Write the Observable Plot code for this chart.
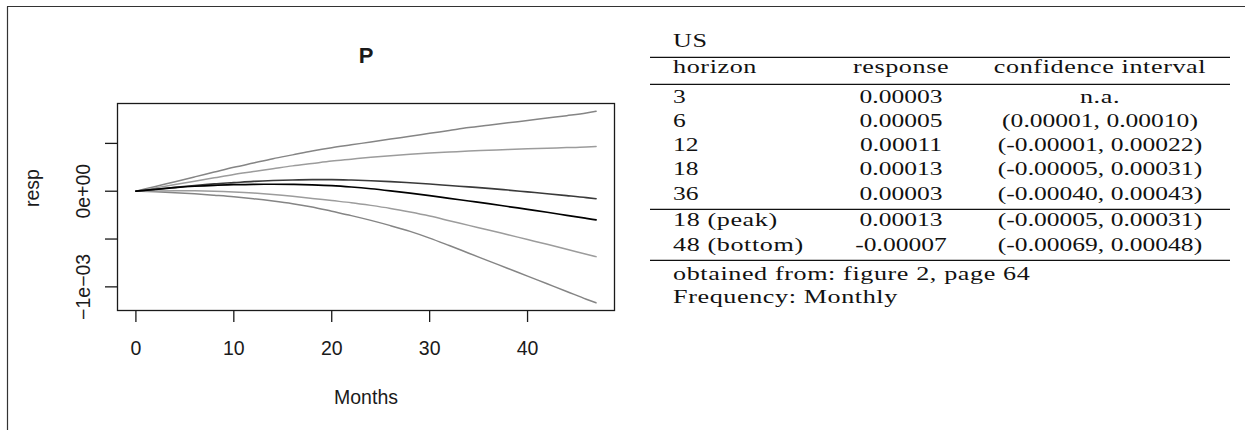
<!DOCTYPE html>
<html><head><meta charset="utf-8">
<script src="https://cdn.jsdelivr.net/npm/d3@7"></script>
<script src="https://cdn.jsdelivr.net/npm/@observablehq/plot@0.6"></script>
<style>
html,body{margin:0;padding:0;background:#fff;}
#wrap{position:relative;width:1245px;height:430px;overflow:hidden;background:#fff;}
#chart{position:absolute;left:0;top:0;}
#overlay{position:absolute;left:0;top:0;pointer-events:none;}
</style></head><body>
<div id="wrap"><div id="chart"></div><svg id="overlay" width="1245" height="430"></svg></div>
<script>
// ---------- chart data (response values in units of 1e-3) ----------
const months = [0,2,4,6,8,10,12,14,16,18,20,22,24,26,28,30,32,34,36,38,40,42,44,46,47];
const upperOuter = [0,0.05,0.10,0.15,0.20,0.25,0.295,0.34,0.38,0.42,0.455,0.485,0.515,0.545,0.575,0.605,0.635,0.665,0.69,0.715,0.74,0.765,0.79,0.818,0.837];
const upperInner = [0,0.035,0.07,0.105,0.14,0.175,0.205,0.235,0.265,0.29,0.315,0.335,0.355,0.372,0.387,0.40,0.41,0.42,0.428,0.436,0.443,0.45,0.456,0.463,0.468];
const responseLine = [0,0.02,0.04,0.06,0.077,0.09,0.103,0.112,0.118,0.121,0.121,0.117,0.11,0.10,0.088,0.075,0.06,0.045,0.03,0.012,-0.007,-0.026,-0.046,-0.067,-0.079];
const medianLine = [0,0.02,0.038,0.052,0.062,0.068,0.072,0.073,0.071,0.066,0.058,0.044,0.026,0.004,-0.02,-0.046,-0.074,-0.102,-0.13,-0.16,-0.19,-0.22,-0.252,-0.284,-0.30];
const lowerInner = [0,0.003,0.005,0.004,0,-0.008,-0.019,-0.034,-0.053,-0.075,-0.098,-0.12,-0.148,-0.18,-0.218,-0.26,-0.308,-0.357,-0.405,-0.455,-0.505,-0.555,-0.607,-0.658,-0.684];
const lowerOuter = [0,-0.006,-0.015,-0.027,-0.042,-0.058,-0.078,-0.102,-0.13,-0.165,-0.21,-0.255,-0.305,-0.36,-0.42,-0.49,-0.568,-0.648,-0.728,-0.808,-0.888,-0.968,-1.048,-1.129,-1.167];
const xTicks = [0,10,20,30,40];
const yTicks = [-0.001,-0.0005,0,0.0005];
const yLabelValues = [-0.001, 0];
const yLabelTexts = ["\u22121e\u221203", "0e+00"];
const chartTitle = "P";
const xTitle = "Months";
const yTitle = "resp";

// ---------- table data ----------
const tableTitle = "US";
const headers = ["horizon", "response", "confidence interval"];
const horizons = ["3", "6", "12", "18", "36"];
const responses = ["0.00003", "0.00005", "0.00011", "0.00013", "0.00003"];
const intervals = ["n.a.", "(0.00001, 0.00010)", "(-0.00001, 0.00022)", "(-0.00005, 0.00031)", "(-0.00040, 0.00043)"];
const summaryLabels = ["18 (peak)", "48 (bottom)"];
const summaryResponses = ["0.00013", "-0.00007"];
const summaryIntervals = ["(-0.00005, 0.00031)", "(-0.00069, 0.00048)"];
const notes = ["obtained from: figure 2, page 64", "Frequency: Monthly"];

// ---------- styles ----------
const seriesDefs = [
  {values: upperOuter, color: "#858585", width: 1.5},
  {values: lowerOuter, color: "#858585", width: 1.5},
  {values: upperInner, color: "#9c9c9c", width: 1.5},
  {values: lowerInner, color: "#9c9c9c", width: 1.5},
  {values: responseLine, color: "#3a3a3a", width: 1.6},
  {values: medianLine, color: "#000000", width: 1.7}
];
const toRows = vals => months.map((m, i) => ({month: m, value: vals[i] * 1e-3}));

// R-style 4% axis extension
function ext(lo, hi) { const d = (hi - lo) * 0.04; return [lo - d, hi + d]; }
const allVals = seriesDefs.flatMap(s => s.values.map(v => v * 1e-3));
const xDomain = ext(d3.min(months), d3.max(months));
const yDomain = ext(d3.min(allVals), d3.max(allVals));

const sans = "'Liberation Sans', Arial, Helvetica, sans-serif";
const fs = 19.5;
const chart = Plot.plot({
  width: 625, height: 430,
  marginLeft: 117, marginRight: 11, marginTop: 103, marginBottom: 120,
  x: {domain: xDomain},
  y: {domain: yDomain},
  style: {fontFamily: sans, fontSize: fs + "px", color: "#1a1a1a", background: "transparent", overflow: "visible"},
  marks: [
    ...seriesDefs.map(s => Plot.line(toRows(s.values), {x: "month", y: "value", stroke: s.color, strokeWidth: s.width, curve: "monotone-x"})),
    Plot.frame({stroke: "#1a1a1a", strokeWidth: 1.3}),
    Plot.axisX({ticks: xTicks, tickSize: 12, tickPadding: 19, tickFormat: d => String(d), label: null, fontSize: fs, strokeWidth: 1.3}),
    Plot.axisY({ticks: yTicks, tickSize: 12, tickFormat: () => "", label: null, strokeWidth: 1.3}),
    Plot.text(yLabelValues, {y: d => d, text: (d, i) => yLabelTexts[i], frameAnchor: "left", dx: -28, rotate: -90, textAnchor: "middle", lineAnchor: "bottom", fontSize: fs}),
    Plot.text([chartTitle], {frameAnchor: "top", dy: -41, lineAnchor: "bottom", fontWeight: "bold", fontSize: 22}),
    Plot.text([xTitle], {frameAnchor: "bottom", dy: 93, lineAnchor: "bottom", fontSize: fs}),
    Plot.text([yTitle], {frameAnchor: "left", dx: -79, rotate: -90, lineAnchor: "bottom", fontSize: fs})
  ]
});
document.getElementById("chart").appendChild(chart);

// ---------- overlay: page borders + table ----------
const svg = d3.select("#overlay");
svg.append("line").attr("x1", 7).attr("x2", 1245).attr("y1", 6.5).attr("y2", 6.5).attr("stroke", "#333").attr("stroke-width", 1.2);
svg.append("line").attr("x1", 7.5).attr("x2", 7.5).attr("y1", 6.5).attr("y2", 430).attr("stroke", "#333").attr("stroke-width", 1.2);

const serif = "'Liberation Serif', 'Times New Roman', serif";
const col = {left: 673, mid: 901, right: 1100};
const ruleX = [650, 1230];
const rules = [57.3, 84.3, 209.3, 260.3];
const base = {title: 47.3, header: 73.3, rows: [102.7, 126.9, 151.2, 175.4, 199.7], summary: [226.3, 250.6], notes: [279.5, 302.5]};

function put(str, x, y, anchor, isWord) {
  svg.append("text")
    .attr("transform", `translate(${x},${y}) scale(${isWord ? 1.34 : 1.31},1)`)
    .attr("text-anchor", anchor)
    .attr("font-family", serif)
    .attr("font-size", 19.5)
    .attr("letter-spacing", isWord ? 0.45 : 0)
    .attr("fill", "#111")
    .text(str);
}
rules.forEach(y => svg.append("line").attr("x1", ruleX[0]).attr("x2", ruleX[1]).attr("y1", y).attr("y2", y).attr("stroke", "#111").attr("stroke-width", 1.3));
put(tableTitle, col.left, base.title, "start", true);
put(headers[0], col.left, base.header, "start", true);
put(headers[1], col.mid, base.header, "middle", true);
put(headers[2], col.right, base.header, "middle", true);
horizons.forEach((h, i) => {
  put(h, col.left, base.rows[i], "start", false);
  put(responses[i], col.mid, base.rows[i], "middle", false);
  put(intervals[i], col.right, base.rows[i], "middle", intervals[i] === "n.a.");
});
summaryLabels.forEach((h, i) => {
  put(h, col.left, base.summary[i], "start", true);
  put(summaryResponses[i], col.mid, base.summary[i], "middle", false);
  put(summaryIntervals[i], col.right, base.summary[i], "middle", false);
});
notes.forEach((n, i) => put(n, col.left, base.notes[i], "start", true));
</script>
</body></html>
